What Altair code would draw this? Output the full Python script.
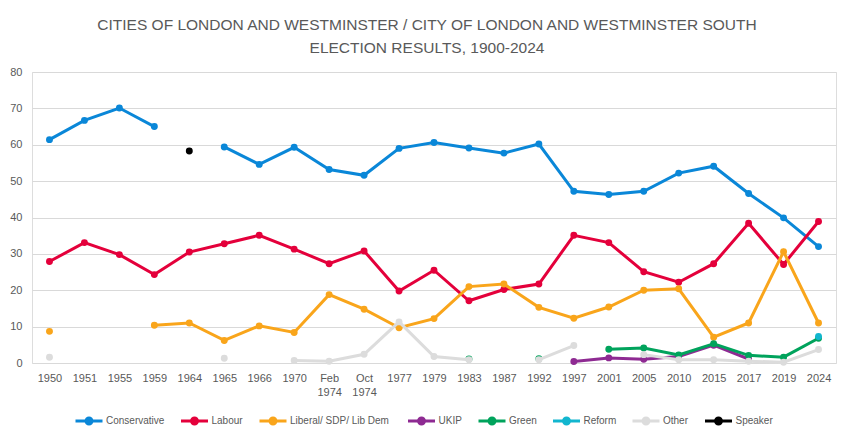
import altair as alt
import pandas as pd

categories = ["1950", "1951", "1955", "1959", "1964", "1965", "1966", "1970",
              "Feb 1974", "Oct 1974", "1977", "1979", "1983", "1987", "1992",
              "1997", "2001", "2005", "2010", "2015", "2017", "2019", "2024"]

conservative = [61.4, 66.7, 70.1, 65.0, None, 59.4, 54.6, 59.3, 53.2, 51.6, 59.0, 60.6,
                59.1, 57.7, 60.2, 47.2, 46.3, 47.2, 52.2, 54.1, 46.6, 39.9, 32.0]
labour = [27.9, 33.1, 29.8, 24.3, 30.5, 32.8, 35.1, 31.3, 27.3, 30.8, 19.8, 25.5,
          17.1, 20.2, 21.7, 35.1, 33.1, 25.1, 22.2, 27.3, 38.4, 27.1, 38.9]
libdem = [8.7, None, None, 10.4, 11.0, 6.2, 10.2, 8.4, 18.8, 14.8, 9.7, 12.2,
          21.0, 21.7, 15.3, 12.3, 15.4, 20.0, 20.4, 7.1, 11.0, 30.6, 11.0]
ukip = [None, None, None, None, None, None, None, None, None, None, None, None,
        None, None, None, 0.4, 1.4, 1.0, 1.8, 4.9, 1.1, None, None]
green = [None, None, None, None, None, None, None, None, None, None, None, None,
         1.1, None, 1.2, None, 3.8, 4.1, 2.2, 5.3, 2.1, 1.6, 6.8]
reform = [None] * 22 + [7.3]
other = [1.6, None, None, None, None, 1.3, None, 0.7, 0.5, 2.4, 11.3, 1.8,
         0.9, None, 0.9, 4.8, None, 2.3, 0.9, 0.9, 0.5, 0.2, 3.7]
speaker = [None, None, None, None, 58.3] + [None] * 18

parties = ["Conservative", "Labour", "Liberal/ SDP/ Lib  Dem", "UKIP", "Green",
           "Reform", "Other", "Speaker"]
colors = ["#0A87D8", "#E4003B", "#F9A51B", "#8E2A92", "#00A35C", "#12B6CF",
          "#DCDCDC", "#000000"]
series = [conservative, labour, libdem, ukip, green, reform, other, speaker]

rows = []
for party, vals in zip(parties, series):
    run = 0
    prev = False
    for cat, v in zip(categories, vals):
        if v is None:
            if prev:
                run += 1
            prev = False
            continue
        rows.append({"party": party, "cat": cat, "value": v, "run": f"{party}-{run}"})
        prev = True
df = pd.DataFrame(rows)

FONT = "Liberation Sans"
GREY = "#595959"

x = alt.X("cat:N", sort=categories,
          scale=alt.Scale(domain=categories, padding=0.5),
          axis=alt.Axis(title=None, labelAngle=0, ticks=False, domain=False,
                        labelExpr="split(datum.label, ' ')", labelPadding=9,
                        labelFontSize=11, labelColor=GREY, labelFont=FONT,
                        labelLineHeight=14, grid=False))
y = alt.Y("value:Q", scale=alt.Scale(domain=[0, 80], nice=False),
          axis=alt.Axis(title=None, values=list(range(0, 81, 10)), ticks=False,
                        domain=False, labelPadding=10, labelFontSize=11,
                        labelColor=GREY, labelFont=FONT, gridColor="#D9D9D9",
                        gridWidth=1))
legend_path = ("M-1,0L1,0M-0.22,0A0.22,0.22,0,1,1,0.22,0"
               "A0.22,0.22,0,1,1,-0.22,0Z")
color = alt.Color("party:N", scale=alt.Scale(domain=parties, range=colors),
                  legend=alt.Legend(title=None, orient="none", direction="horizontal",
                                    legendX=42, legendY=334, symbolType=legend_path,
                                    symbolSize=729, symbolStrokeWidth=3,
                                    labelFontSize=10, labelColor=GREY, labelFont=FONT,
                                    columnPadding=9.5, labelOffset=2))

layers = []
for p in parties:
    base = alt.Chart(df).transform_filter(alt.datum.party == p)
    layers.append(base.mark_line(strokeWidth=3).encode(x=x, y=y, color=color, detail="run:N"))
    layers.append(base.mark_circle(size=48, opacity=1).encode(x=x, y=y, color=color))

chart = alt.layer(*layers).properties(
    width=804, height=291,
    autosize=alt.AutoSizeParams(type="none"),
    padding={"left": 24, "top": 64, "right": 7, "bottom": 70},
    title=alt.TitleParams(
        ["CITIES OF LONDON AND WESTMINSTER / CITY OF LONDON AND WESTMINSTER SOUTH",
         "ELECTION RESULTS, 1900-2024"],
        anchor="middle", font="Liberation Sans", fontSize=15.5, fontWeight="normal",
        color=GREY, lineHeight=23, offset=10, dx=-7),
).configure_view(stroke=None).configure(background="white")

chart.save("out.html", embed_options={"renderer": "svg", "actions": False})
